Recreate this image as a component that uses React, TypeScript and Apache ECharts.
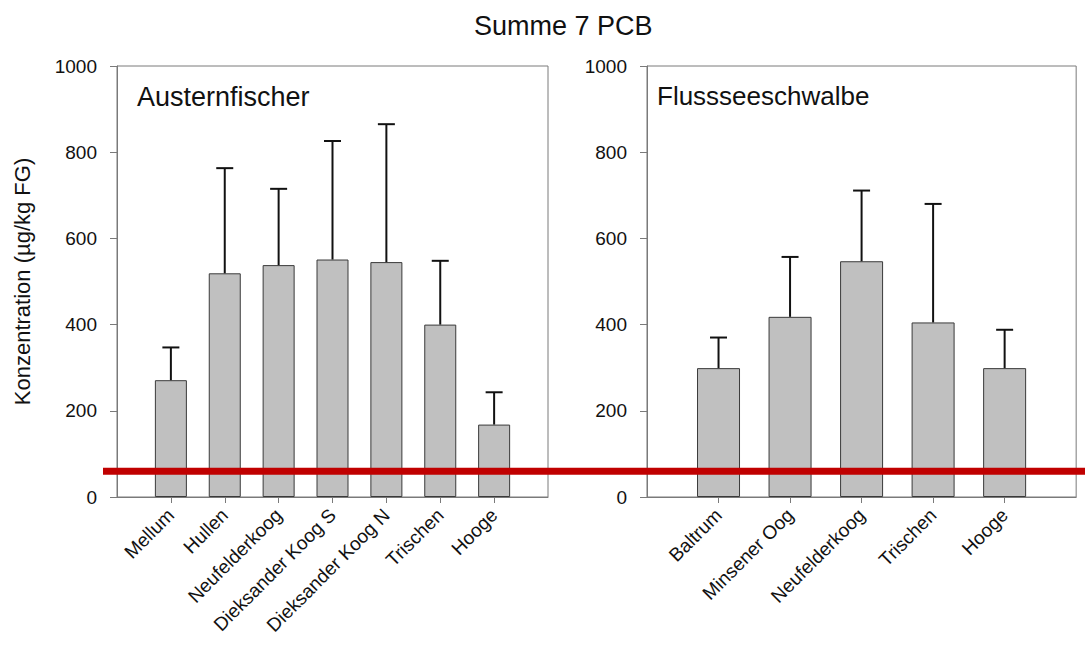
import React, { useEffect, useRef } from "react";
import * as echarts from "echarts";

const TITLE = "Summe 7 PCB";
const Y_NAME = "Konzentration (µg/kg FG)";
const LEFT_LABEL = "Austernfischer";
const RIGHT_LABEL = "Flussseeschwalbe";

const leftCats = ["Mellum", "Hullen", "Neufelderkoog", "Dieksander Koog S", "Dieksander Koog N", "Trischen", "Hooge"];
const leftMean = [271, 519, 538, 551, 545, 400, 168];
const leftUpper = [347, 763, 715, 826, 865, 548, 243];

const rightCats = ["Baltrum", "Minsener Oog", "Neufelderkoog", "Trischen", "Hooge"];
const rightMean = [299, 418, 547, 405, 299];
const rightUpper = [370, 557, 711, 680, 388];

const yTicks = { min: 0, max: 1000, interval: 200 };
const THRESHOLD = 60;

const FONT = "'Liberation Sans', Arial, sans-serif";
const AXIS_GRAY = "#7a7a7a";

function errRender(capW: number) {
  return (params: any, api: any) => {
    const x = api.value(0);
    const top = api.coord([x, api.value(2)]);
    const base = api.coord([x, api.value(1)]);
    const style = { stroke: "#111", lineWidth: 2 };
    return {
      type: "group",
      children: [
        { type: "line", shape: { x1: base[0], y1: base[1], x2: top[0], y2: top[1] }, style },
        { type: "line", shape: { x1: top[0] - capW / 2, y1: top[1], x2: top[0] + capW / 2, y2: top[1] }, style },
      ],
    };
  };
}

export default function App() {
  const ref = useRef<HTMLDivElement>(null);
  useEffect(() => {
    if (!ref.current) return;
    const chart = echarts.init(ref.current, null, { renderer: "svg" });
    const lAxis = ["", ...leftCats, " "];
    const rAxis = ["", ...rightCats, " "];
    const mkX = (data: string[], gridIndex: number) => ({
      type: "category",
      gridIndex,
      data,
      boundaryGap: false,
      axisLine: { show: true, lineStyle: { color: AXIS_GRAY, width: 1 } },
      axisTick: {
        show: true,
        length: 6,
        interval: (_i: number, v: string) => v.trim() !== "",
        lineStyle: { color: AXIS_GRAY },
      },
      axisLabel: {
        interval: 0,
        rotate: 45,
        fontSize: 19,
        color: "#111",
        fontFamily: FONT,
        margin: 15,
      },
      splitLine: { show: false },
    });
    const mkY = (gridIndex: number, withName: boolean) => ({
      type: "value",
      gridIndex,
      min: yTicks.min,
      max: yTicks.max,
      interval: yTicks.interval,
      name: withName ? Y_NAME : "",
      nameLocation: "middle",
      nameRotate: 90,
      nameGap: 84,
      nameTextStyle: { fontSize: 22, color: "#111", fontFamily: FONT },
      axisLine: { show: true, lineStyle: { color: AXIS_GRAY } },
      axisTick: { show: true, length: 7, inside: false, lineStyle: { color: AXIS_GRAY } },
      axisLabel: {
        fontSize: 19,
        color: "#111",
        fontFamily: FONT,
        margin: 20,
        formatter: (v: number) => String(v),
      },
      splitLine: { show: false },
    });
    const barStyle = { color: "#c0c0c0", borderColor: "#3a3a3a", borderWidth: 1 };
    chart.setOption({
      animation: false,
      backgroundColor: "#fff",
      title: {
        text: TITLE,
        left: 469,
        top: 7,
        textStyle: { fontSize: 27, fontWeight: "normal", color: "#111", fontFamily: FONT },
      },
      grid: [
        { left: 117, right: 537, top: 66, bottom: 149, show: true, borderColor: AXIS_GRAY, borderWidth: 1 },
        { left: 647, right: 8, top: 66, bottom: 149, show: true, borderColor: AXIS_GRAY, borderWidth: 1 },
      ],
      xAxis: [mkX(lAxis, 0), mkX(rAxis, 1)],
      yAxis: [mkY(0, true), mkY(1, false)],
      series: [
        {
          type: "bar",
          xAxisIndex: 0,
          yAxisIndex: 0,
          barWidth: 32,
          data: leftCats.map((c, i) => [c, leftMean[i]]),
          itemStyle: barStyle,
        },
        {
          type: "custom",
          xAxisIndex: 0,
          yAxisIndex: 0,
          renderItem: errRender(17),
          data: leftCats.map((c, i) => [c, leftMean[i], leftUpper[i]]),
          encode: { x: 0, y: [1, 2] },
          z: 3,
        },
        {
          type: "bar",
          xAxisIndex: 1,
          yAxisIndex: 1,
          barWidth: 43,
          data: rightCats.map((c, i) => [c, rightMean[i]]),
          itemStyle: barStyle,
        },
        {
          type: "custom",
          xAxisIndex: 1,
          yAxisIndex: 1,
          renderItem: errRender(17),
          data: rightCats.map((c, i) => [c, rightMean[i], rightUpper[i]]),
          encode: { x: 0, y: [1, 2] },
          z: 3,
        },
      ],
    });
    const yPix = chart.convertToPixel({ yAxisIndex: 0 }, THRESHOLD) as number;
    chart.setOption({
      graphic: [
        {
          type: "text",
          left: 137,
          top: 83,
          style: { text: LEFT_LABEL, fontSize: 27, fill: "#111", fontFamily: FONT },
        },
        {
          type: "text",
          left: 657,
          top: 83,
          style: { text: RIGHT_LABEL, fontSize: 26, fill: "#111", fontFamily: FONT },
        },
        {
          type: "line",
          z: 100,
          shape: { x1: 103, y1: yPix, x2: 1085, y2: yPix },
          style: { stroke: "#c00000", lineWidth: 7 },
        },
      ],
    });
    return () => chart.dispose();
  }, []);
  return (
    <div
      ref={ref}
      style={{ position: "absolute", left: 0, top: 0, width: 1085, height: 646 }}
    />
  );
}
